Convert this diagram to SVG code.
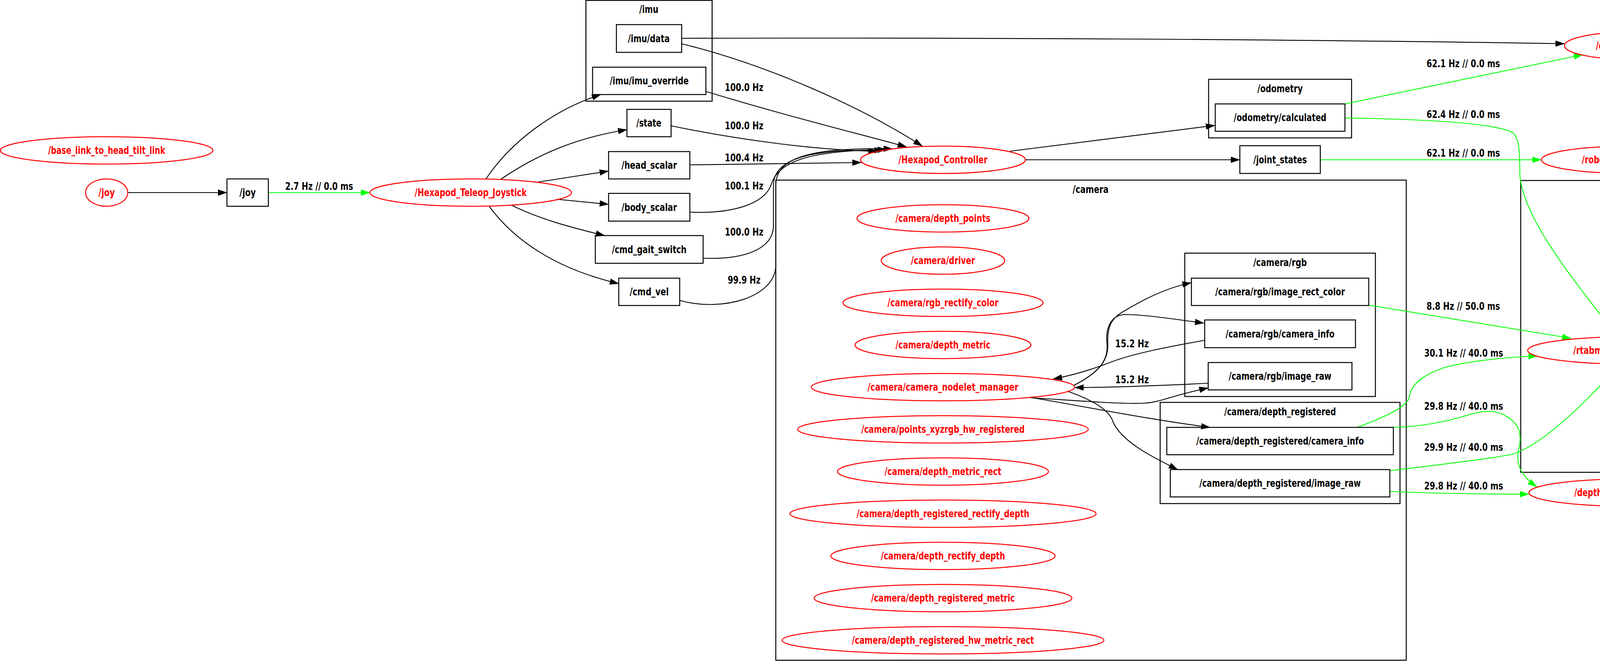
<svg xmlns="http://www.w3.org/2000/svg" width="5959" height="1692" viewBox="0 0 5959 1692">
<style>
.cl{fill:none;stroke:#000;stroke-width:2.5}
.tp{fill:none;stroke:#000;stroke-width:2.5}
.nd{fill:none;stroke:#f00;stroke-width:2.5}
.nk{fill:none;stroke:#000;stroke-width:2.5}
text{font-family:"DejaVu Sans Condensed","DejaVu Sans",sans-serif;font-weight:bold;font-size:26px;text-anchor:middle;fill:#000}
.tr{fill:#f00}
.e{fill:none;stroke-width:2.2}
.k{stroke:#000}.g{stroke:#0f0}.r{stroke:#f00}.o{stroke:#ff4500}
</style>
<defs>
<marker id="ak" markerUnits="userSpaceOnUse" markerWidth="24" markerHeight="16" refX="23" refY="8" orient="auto"><path d="M0,0L24,8L0,16z" fill="#000"/></marker>
<marker id="ag" markerUnits="userSpaceOnUse" markerWidth="24" markerHeight="16" refX="23" refY="8" orient="auto"><path d="M0,0L24,8L0,16z" fill="#0f0"/></marker>
<marker id="ar" markerUnits="userSpaceOnUse" markerWidth="24" markerHeight="16" refX="23" refY="8" orient="auto"><path d="M0,0L24,8L0,16z" fill="#f00"/></marker>
<marker id="ao" markerUnits="userSpaceOnUse" markerWidth="24" markerHeight="16" refX="23" refY="8" orient="auto"><path d="M0,0L24,8L0,16z" fill="#ff4500"/></marker>
</defs>
<rect width="5959" height="1692" fill="#fff"/>
<g id="clusters">
<g id="cl_imu"><rect class="cl" x="1500" y="1" width="323" height="258"/><text x="1661" y="33" textLength="49" lengthAdjust="spacingAndGlyphs">/imu</text></g>
<g id="cl_odometry"><rect class="cl" x="3094" y="203" width="366" height="150"/><text x="3277" y="236" textLength="116" lengthAdjust="spacingAndGlyphs">/odometry</text></g>
<g id="cl_camera"><rect class="cl" x="1986" y="461" width="1614" height="1229"/><text x="2792" y="494" textLength="92" lengthAdjust="spacingAndGlyphs">/camera</text></g>
<g id="cl_camera_rgb"><rect class="cl" x="3033" y="648" width="488" height="367"/><text x="3277" y="681" textLength="137" lengthAdjust="spacingAndGlyphs">/camera/rgb</text></g>
<g id="cl_camera_depth_registered"><rect class="cl" x="2970" y="1030" width="614" height="259"/><text x="3277" y="1063" textLength="286" lengthAdjust="spacingAndGlyphs">/camera/depth_registered</text></g>
<g id="cl_rtabmap"><rect class="cl" x="3893" y="462" width="2064" height="747"/><text x="4925" y="496" textLength="103" lengthAdjust="spacingAndGlyphs">/rtabmap</text></g>
<g id="cl_rtabmap_odometry"><rect class="cl" x="4590" y="525" width="540" height="150"/><text x="4860" y="558" textLength="216" lengthAdjust="spacingAndGlyphs">/rtabmap/odometry</text></g>
<g id="cl_rtabmap_camera"><rect class="cl" x="4471" y="691" width="777" height="502"/><text x="4860" y="725" textLength="191" lengthAdjust="spacingAndGlyphs">/rtabmap/camera</text></g>
<g id="cl_rtabmap_camera_depth_registered"><rect class="cl" x="4488" y="752" width="744" height="259"/><text x="4860" y="785" textLength="388" lengthAdjust="spacingAndGlyphs">/rtabmap/camera/depth_registered</text></g>
<g id="cl_rtabmap_camera_rgb"><rect class="cl" x="4551" y="1027" width="618" height="150"/><text x="4860" y="1059" textLength="237" lengthAdjust="spacingAndGlyphs">/rtabmap/camera/rgb</text></g>
</g>
<g id="edges">
<path class="e k" marker-end="url(#ak)" d="M326,493L581,493"/>
<path class="e g" marker-end="url(#ag)" d="M687,493L947,493"/>
<text x="817" y="486" textLength="174" lengthAdjust="spacingAndGlyphs">2.7 Hz // 0.0 ms</text>
<path class="e k" marker-end="url(#ak)" d="M1244,458C1310,360 1420,280 1538,242"/>
<path class="e k" marker-end="url(#ak)" d="M1282,459C1380,392 1480,352 1605,332"/>
<path class="e k" marker-end="url(#ak)" d="M1378,466L1558,438"/>
<path class="e k" marker-end="url(#ak)" d="M1425,510L1558,523"/>
<path class="e k" marker-end="url(#ak)" d="M1311,526C1380,560 1460,582 1548,603"/>
<path class="e k" marker-end="url(#ak)" d="M1253,529C1320,620 1430,690 1584,726"/>
<path class="e k" marker-end="url(#ak)" d="M1745,112C1960,165 2200,270 2361,374"/>
<path class="e k" marker-end="url(#ak)" d="M1807,234C1990,290 2150,330 2321,376"/>
<text x="1905" y="233" textLength="99" lengthAdjust="spacingAndGlyphs">100.0 Hz</text>
<path class="e k" marker-end="url(#ak)" d="M1718,322C1900,360 2100,385 2246,387"/>
<text x="1905" y="331" textLength="99" lengthAdjust="spacingAndGlyphs">100.0 Hz</text>
<path class="e k" marker-end="url(#ak)" d="M1766,422L2205,416"/>
<text x="1905" y="413" textLength="99" lengthAdjust="spacingAndGlyphs">100.4 Hz</text>
<path class="e k" marker-end="url(#ak)" d="M1766,543C1880,548 1960,520 1975,470C1995,410 2080,385 2270,383"/>
<text x="1905" y="485" textLength="99" lengthAdjust="spacingAndGlyphs">100.1 Hz</text>
<path class="e k" marker-end="url(#ak)" d="M1800,661C1900,665 1978,640 1980,580L1980,470C1985,400 2090,382 2262,385"/>
<text x="1905" y="603" textLength="99" lengthAdjust="spacingAndGlyphs">100.0 Hz</text>
<path class="e k" marker-end="url(#ak)" d="M1740,769C1850,800 1985,760 1986,680L1986,470C1990,395 2100,378 2285,381"/>
<text x="1905" y="726" textLength="84" lengthAdjust="spacingAndGlyphs">99.9 Hz</text>
<path class="e k" marker-end="url(#ak)" d="M2586,387L3110,321"/>
<path class="e k" marker-end="url(#ak)" d="M2626,409L3174,409"/>
<path class="e k" marker-end="url(#ak)" d="M1745,98C2400,96 3300,100 4005,112"/>
<path class="e g" marker-end="url(#ag)" d="M3443,266L4052,140"/>
<text x="3746" y="172" textLength="188" lengthAdjust="spacingAndGlyphs">62.1 Hz // 0.0 ms</text>
<path class="e g" marker-end="url(#ag)" d="M3443,302C3650,305 3820,315 3870,338C3892,350 3890,400 3891,450C3900,560 4030,720 4141,861"/>
<text x="3746" y="302" textLength="188" lengthAdjust="spacingAndGlyphs">62.4 Hz // 0.0 ms</text>
<path class="e g" marker-end="url(#ag)" d="M3380,409L3946,409"/>
<text x="3746" y="401" textLength="188" lengthAdjust="spacingAndGlyphs">62.1 Hz // 0.0 ms</text>
<path class="e k" marker-end="url(#ak)" d="M2750,986C2810,955 2838,925 2836,880C2834,840 2842,815 2880,795C2930,765 2990,735 3050,724"/>
<path class="e k" marker-end="url(#ak)" d="M2750,986C2810,955 2838,925 2834,880C2830,845 2840,810 2876,805C2930,805 2990,815 3082,827"/>
<path class="e k" marker-end="url(#ak)" d="M3084,871C2990,888 2900,905 2841,928C2790,948 2740,962 2696,970"/>
<text x="2898" y="889" textLength="86" lengthAdjust="spacingAndGlyphs">15.2 Hz</text>
<path class="e k" marker-end="url(#ak)" d="M3093,981C2950,988 2850,992 2751,992"/>
<text x="2898" y="981" textLength="86" lengthAdjust="spacingAndGlyphs">15.2 Hz</text>
<path class="e k" marker-end="url(#ak)" d="M2637,1018C2750,1025 2870,1035 2930,1032C2970,1030 2990,1015 3093,993"/>
<path class="e k" marker-end="url(#ak)" d="M2637,1017C2800,1045 2950,1075 3098,1094"/>
<path class="e k" marker-end="url(#ak)" d="M2734,1002C2800,1025 2840,1050 2849,1079C2870,1130 2950,1170 3015,1202"/>
<path class="e g" marker-end="url(#ag)" d="M3504,781L4022,866"/>
<text x="3746" y="793" textLength="188" lengthAdjust="spacingAndGlyphs">8.8 Hz // 50.0 ms</text>
<path class="e g" marker-end="url(#ag)" d="M3474,1094C3540,1070 3605,1040 3608,1016C3612,985 3640,960 3700,940C3780,920 3870,914 3936,911"/>
<text x="3747" y="913" textLength="202" lengthAdjust="spacingAndGlyphs">30.1 Hz // 40.0 ms</text>
<path class="e g" marker-end="url(#ag)" d="M3567,1094C3640,1092 3700,1080 3760,1062C3800,1050 3830,1048 3860,1068C3895,1090 3895,1120 3888,1150C3880,1185 3890,1215 3934,1246"/>
<text x="3747" y="1049" textLength="202" lengthAdjust="spacingAndGlyphs">29.8 Hz // 40.0 ms</text>
<path class="e g" marker-end="url(#ag)" d="M3558,1205C3700,1188 3830,1172 3870,1163C3950,1140 4070,1020 4145,933"/>
<text x="3747" y="1154" textLength="202" lengthAdjust="spacingAndGlyphs">29.9 Hz // 40.0 ms</text>
<path class="e g" marker-end="url(#ag)" d="M3558,1258C3700,1264 3800,1265 3914,1265"/>
<text x="3747" y="1253" textLength="202" lengthAdjust="spacingAndGlyphs">29.8 Hz // 40.0 ms</text>
<path class="e k" marker-end="url(#ak)" d="M4434,1261L4807,1261"/>
<path class="e k" marker-end="url(#ak)" d="M4236,862C4320,810 4420,760 4500,730C4580,700 4650,675 4715,659"/>
<path class="e k" marker-end="url(#ak)" d="M4411,880L4514,873"/>
<path class="e k" marker-end="url(#ak)" d="M4392,916L4505,926"/>
<path class="e k" marker-end="url(#ak)" d="M4251,930C4350,980 4480,1040 4709,1090"/>
<path class="e g" marker-end="url(#ag)" d="M5113,659C5320,710 5600,790 5713,924"/>
<text x="5403" y="688" textLength="216" lengthAdjust="spacingAndGlyphs">14.0 Hz // 130.0 ms</text>
<path class="e r" marker-end="url(#ar)" d="M5206,857C5380,870 5540,890 5663,930"/>
<text x="5403" y="855" textLength="216" lengthAdjust="spacingAndGlyphs">0.7 Hz // 3300.0 ms</text>
<path class="e g" marker-end="url(#ag)" d="M5215,959L5561,959"/>
<text x="5403" y="952" textLength="216" lengthAdjust="spacingAndGlyphs">14.0 Hz // 140.0 ms</text>
<path class="e o" marker-end="url(#ao)" d="M5152,1096C5350,1065 5560,1030 5665,990"/>
<text x="5403" y="1022" textLength="216" lengthAdjust="spacingAndGlyphs">1.0 Hz // 2970.0 ms</text>
<path class="e g" marker-end="url(#ag)" d="M4913,1262C5180,1262 5450,1200 5566,1140C5640,1100 5690,1045 5720,995"/>
<text x="5403" y="1145" textLength="216" lengthAdjust="spacingAndGlyphs">29.6 Hz // 110.0 ms</text>
</g>
<g id="n_base_link_to_head_tilt_link"><ellipse class="nd" cx="273" cy="385" rx="272" ry="35"/><text class="tr" x="273" y="394" textLength="300" lengthAdjust="spacingAndGlyphs">/base_link_to_head_tilt_link</text></g>
<g id="n_joy"><ellipse class="nd" cx="273" cy="493" rx="54" ry="35"/><text class="tr" x="273" y="502" textLength="42" lengthAdjust="spacingAndGlyphs">/joy</text></g>
<g id="t_joy"><rect class="tp" x="581" y="458" width="106" height="70"/><text x="634" y="502" textLength="42" lengthAdjust="spacingAndGlyphs">/joy</text></g>
<g id="n_Hexapod_Teleop_Joystick"><ellipse class="nd" cx="1205" cy="493" rx="258" ry="35"/><text class="tr" x="1205" y="502" textLength="287" lengthAdjust="spacingAndGlyphs">/Hexapod_Teleop_Joystick</text></g>
<g id="t_imu_data"><rect class="tp" x="1578" y="63" width="167" height="71"/><text x="1661" y="108" textLength="107" lengthAdjust="spacingAndGlyphs">/imu/data</text></g>
<g id="t_imu_imu_override"><rect class="tp" x="1517" y="172" width="290" height="70"/><text x="1662" y="216" textLength="202" lengthAdjust="spacingAndGlyphs">/imu/imu_override</text></g>
<g id="t_state"><rect class="tp" x="1605" y="280" width="113" height="70"/><text x="1661" y="324" textLength="64" lengthAdjust="spacingAndGlyphs">/state</text></g>
<g id="t_head_scalar"><rect class="tp" x="1558" y="388" width="208" height="70"/><text x="1662" y="432" textLength="142" lengthAdjust="spacingAndGlyphs">/head_scalar</text></g>
<g id="t_body_scalar"><rect class="tp" x="1558" y="495" width="208" height="71"/><text x="1662" y="540" textLength="142" lengthAdjust="spacingAndGlyphs">/body_scalar</text></g>
<g id="t_cmd_gait_switch"><rect class="tp" x="1524" y="603" width="276" height="71"/><text x="1662" y="648" textLength="191" lengthAdjust="spacingAndGlyphs">/cmd_gait_switch</text></g>
<g id="t_cmd_vel"><rect class="tp" x="1584" y="712" width="156" height="70"/><text x="1662" y="756" textLength="100" lengthAdjust="spacingAndGlyphs">/cmd_vel</text></g>
<g id="n_Hexapod_Controller"><ellipse class="nd" cx="2414" cy="409" rx="211" ry="35"/><text class="tr" x="2414" y="418" textLength="228" lengthAdjust="spacingAndGlyphs">/Hexapod_Controller</text></g>
<g id="n_camera_depth_points"><ellipse class="nd" cx="2414" cy="559" rx="220" ry="35"/><text class="tr" x="2414" y="568" textLength="243" lengthAdjust="spacingAndGlyphs">/camera/depth_points</text></g>
<g id="n_camera_driver"><ellipse class="nd" cx="2414" cy="667" rx="158" ry="35"/><text class="tr" x="2414" y="676" textLength="164" lengthAdjust="spacingAndGlyphs">/camera/driver</text></g>
<g id="n_camera_rgb_rectify_color"><ellipse class="nd" cx="2414" cy="775" rx="256" ry="35"/><text class="tr" x="2414" y="784" textLength="284" lengthAdjust="spacingAndGlyphs">/camera/rgb_rectify_color</text></g>
<g id="n_camera_depth_metric"><ellipse class="nd" cx="2414" cy="883" rx="225" ry="35"/><text class="tr" x="2414" y="892" textLength="243" lengthAdjust="spacingAndGlyphs">/camera/depth_metric</text></g>
<g id="n_camera_camera_nodelet_manager"><ellipse class="nd" cx="2414" cy="991" rx="337" ry="35"/><text class="tr" x="2414" y="1000" textLength="386" lengthAdjust="spacingAndGlyphs">/camera/camera_nodelet_manager</text></g>
<g id="n_camera_points_xyzrgb_hw_registered"><ellipse class="nd" cx="2414" cy="1099" rx="372" ry="35"/><text class="tr" x="2414" y="1108" textLength="418" lengthAdjust="spacingAndGlyphs">/camera/points_xyzrgb_hw_registered</text></g>
<g id="n_camera_depth_metric_rect"><ellipse class="nd" cx="2414" cy="1207" rx="270" ry="35"/><text class="tr" x="2414" y="1216" textLength="299" lengthAdjust="spacingAndGlyphs">/camera/depth_metric_rect</text></g>
<g id="n_camera_depth_registered_rectify_depth"><ellipse class="nd" cx="2414" cy="1315" rx="392" ry="35"/><text class="tr" x="2414" y="1324" textLength="442" lengthAdjust="spacingAndGlyphs">/camera/depth_registered_rectify_depth</text></g>
<g id="n_camera_depth_rectify_depth"><ellipse class="nd" cx="2414" cy="1423" rx="287" ry="35"/><text class="tr" x="2414" y="1432" textLength="318" lengthAdjust="spacingAndGlyphs">/camera/depth_rectify_depth</text></g>
<g id="n_camera_depth_registered_metric"><ellipse class="nd" cx="2414" cy="1531" rx="330" ry="35"/><text class="tr" x="2414" y="1540" textLength="368" lengthAdjust="spacingAndGlyphs">/camera/depth_registered_metric</text></g>
<g id="n_camera_depth_registered_hw_metric_rect"><ellipse class="nd" cx="2414" cy="1639" rx="412" ry="35"/><text class="tr" x="2414" y="1648" textLength="466" lengthAdjust="spacingAndGlyphs">/camera/depth_registered_hw_metric_rect</text></g>
<g id="t_odometry_calculated"><rect class="tp" x="3111" y="266" width="332" height="70"/><text x="3277" y="310" textLength="237" lengthAdjust="spacingAndGlyphs">/odometry/calculated</text></g>
<g id="t_joint_states"><rect class="tp" x="3174" y="373" width="206" height="71"/><text x="3277" y="418" textLength="137" lengthAdjust="spacingAndGlyphs">/joint_states</text></g>
<g id="n_ekf_localization"><ellipse class="nd" cx="4175" cy="117" rx="170" ry="35"/><text class="tr" x="4175" y="126" textLength="179" lengthAdjust="spacingAndGlyphs">/ekf_localization</text></g>
<g id="n_robot_state_publisher"><ellipse class="nd" cx="4174" cy="409" rx="228" ry="35"/><text class="tr" x="4174" y="418" textLength="249" lengthAdjust="spacingAndGlyphs">/robot_state_publisher</text></g>
<g id="t_camera_rgb_image_rect_color"><rect class="tp" x="3050" y="712" width="454" height="70"/><text x="3277" y="756" textLength="332" lengthAdjust="spacingAndGlyphs">/camera/rgb/image_rect_color</text></g>
<g id="t_camera_rgb_camera_info"><rect class="tp" x="3084" y="819" width="386" height="71"/><text x="3277" y="864" textLength="279" lengthAdjust="spacingAndGlyphs">/camera/rgb/camera_info</text></g>
<g id="t_camera_rgb_image_raw"><rect class="tp" x="3093" y="928" width="368" height="70"/><text x="3277" y="972" textLength="263" lengthAdjust="spacingAndGlyphs">/camera/rgb/image_raw</text></g>
<g id="t_camera_depth_registered_camera_info"><rect class="tp" x="2987" y="1094" width="580" height="70"/><text x="3277" y="1138" textLength="429" lengthAdjust="spacingAndGlyphs">/camera/depth_registered/camera_info</text></g>
<g id="t_camera_depth_registered_image_raw"><rect class="tp" x="2996" y="1202" width="562" height="70"/><text x="3277" y="1246" textLength="413" lengthAdjust="spacingAndGlyphs">/camera/depth_registered/image_raw</text></g>
<g id="n_rtabmap_data_odom_sync"><ellipse class="nd" cx="4174" cy="897" rx="263" ry="35"/><text class="tr" x="4174" y="906" textLength="293" lengthAdjust="spacingAndGlyphs">/rtabmap/data_odom_sync</text></g>
<g id="n_depthimage_to_laserscan"><ellipse class="nd" cx="4174" cy="1261" rx="260" ry="35"/><text class="tr" x="4174" y="1270" textLength="288" lengthAdjust="spacingAndGlyphs">/depthimage_to_laserscan</text></g>
<g id="t_scan"><rect class="tp" x="4807" y="1226" width="106" height="70"/><text x="4860" y="1270" textLength="58" lengthAdjust="spacingAndGlyphs">/scan</text></g>
<g id="t_rtabmap_odometry_synchronized"><rect class="tp" x="4606" y="588" width="507" height="70"/><text x="4860" y="632" textLength="367" lengthAdjust="spacingAndGlyphs">/rtabmap/odometry/synchronized</text></g>
<g id="t_rtabmap_camera_depth_registered_image_raw"><rect class="tp" x="4514" y="816" width="692" height="70"/><text x="4860" y="860" textLength="515" lengthAdjust="spacingAndGlyphs">/rtabmap/camera/depth_registered/image_raw</text></g>
<g id="t_rtabmap_camera_depth_registered_camera_info"><rect class="tp" x="4505" y="924" width="710" height="70"/><text x="4860" y="968" textLength="529" lengthAdjust="spacingAndGlyphs">/rtabmap/camera/depth_registered/camera_info</text></g>
<g id="t_rtabmap_camera_rgb_image_rect_color"><rect class="tp" x="4567" y="1090" width="585" height="70"/><text x="4860" y="1134" textLength="432" lengthAdjust="spacingAndGlyphs">/rtabmap/camera/rgb/image_rect_color</text></g>
<g id="n_rtabmap_rtabmap"><ellipse class="nk" cx="5751" cy="959" rx="190" ry="35"/><text x="5751" y="968" textLength="204" lengthAdjust="spacingAndGlyphs">/rtabmap/rtabmap</text></g>
</svg>
